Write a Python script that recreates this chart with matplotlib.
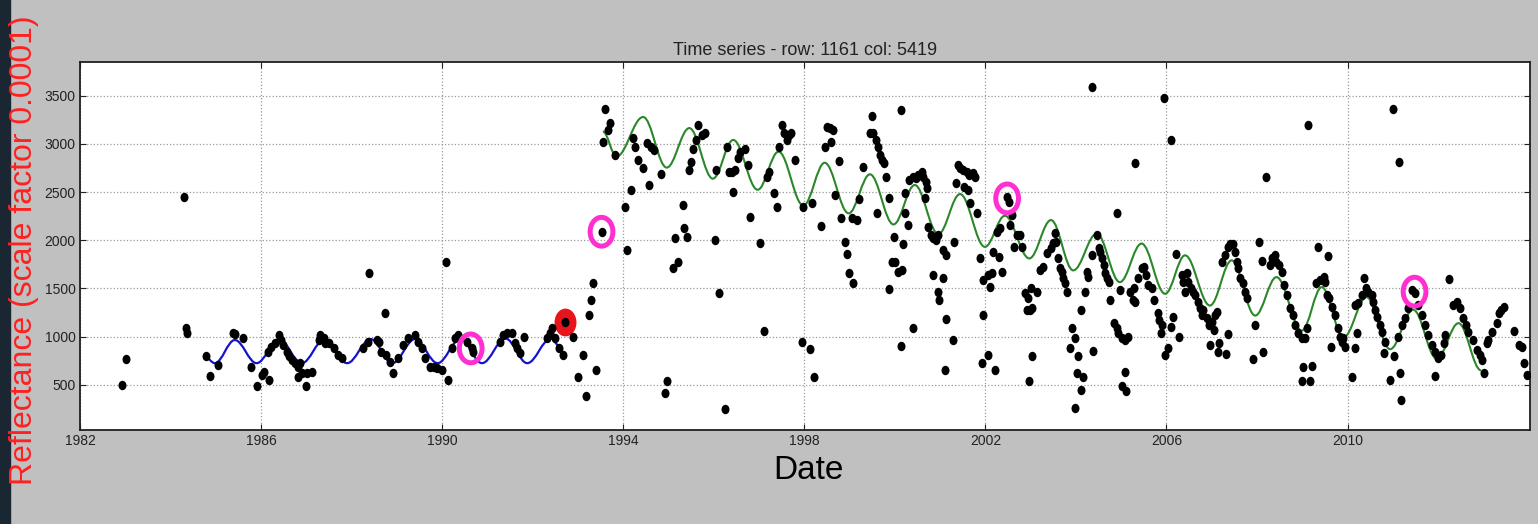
import numpy as np
import matplotlib
matplotlib.use("Agg")
import matplotlib.pyplot as plt
from matplotlib.path import Path
from matplotlib.patches import PathPatch, Rectangle
from matplotlib.transforms import Affine2D

obs_1982_1993 = [
    (1982.92, 500), (1983.01, 766), (1984.30, 2445), (1984.34, 1087), (1984.37, 1035),
    (1984.78, 800), (1984.87, 593), (1985.04, 707), (1985.37, 1035), (1985.42, 1025),
    (1985.61, 990), (1985.77, 690), (1985.92, 483), (1986.01, 603), (1986.07, 638),
    (1986.18, 545), (1986.16, 845), (1986.23, 897), (1986.31, 932), (1986.40, 1018),
    (1986.45, 966), (1986.49, 914), (1986.57, 845), (1986.62, 794), (1986.68, 759),
    (1986.75, 724), (1986.82, 690), (1986.86, 724), (1986.82, 586), (1986.90, 621),
    (1987.01, 621), (1987.12, 638), (1986.99, 483), (1987.29, 966), (1987.41, 932),
    (1987.49, 932), (1987.30, 1018), (1987.38, 983), (1987.60, 880), (1987.71, 811),
    (1987.78, 776), (1988.26, 880), (1988.37, 949), (1988.55, 966), (1988.61, 949),
    (1988.66, 845), (1988.77, 811), (1988.85, 742), (1988.91, 621), (1989.03, 776),
    (1989.14, 914), (1989.25, 983), (1989.40, 1018), (1989.47, 949), (1989.55, 880),
    (1989.62, 776), (1989.73, 690), (1989.81, 690), (1989.88, 672), (1989.99, 655),
    (1990.14, 552), (1988.39, 1665), (1988.74, 1243), (1990.09, 1772), (1990.21, 880),
    (1990.28, 983), (1990.36, 1018), (1990.54, 949), (1990.65, 880), (1990.69, 845),
    (1991.28, 949), (1991.35, 1018), (1991.43, 1035), (1991.54, 1035), (1991.61, 932),
    (1991.65, 880), (1991.72, 828), (1991.81, 1001), (1992.31, 983), (1992.38, 1035),
    (1992.42, 1087), (1992.49, 983), (1992.59, 880), (1992.68, 811), (1992.71, 1156),
    (1992.90, 1001), (1993.12, 811), (1992.99, 586), (1993.17, 379), (1993.39, 655),
    (1993.24, 1225), (1993.29, 1381), (1993.34, 1554), (1993.52, 2089),
]

obs_1993_1998 = [
    (1993.60, 3358), (1993.71, 3213), (1993.66, 3144), (1993.56, 3023), (1993.82, 2884),
    (1994.04, 2349), (1994.17, 2521), (1994.08, 1899), (1994.22, 3057), (1994.26, 2971),
    (1994.32, 2833), (1994.44, 2746), (1994.57, 2573), (1994.52, 3005), (1994.61, 2971),
    (1994.67, 2936), (1994.83, 2687), (1994.92, 413), (1994.97, 541), (1995.11, 1709),
    (1995.20, 1778), (1995.14, 2020), (1995.33, 2366), (1995.35, 2124), (1995.40, 2038),
    (1995.45, 2729), (1995.50, 2815), (1995.55, 2953), (1995.60, 3040), (1995.66, 3195),
    (1995.73, 3092), (1995.81, 3109), (1996.03, 2003), (1996.12, 1450), (1996.25, 248),
    (1996.06, 2729), (1996.30, 2971), (1996.34, 2712), (1996.40, 2712), (1996.47, 2729),
    (1996.42, 2504), (1996.54, 2850), (1996.58, 2919), (1996.68, 2947), (1996.75, 2781),
    (1996.80, 2245), (1997.02, 1968), (1997.10, 1060), (1997.17, 2660), (1997.22, 2712),
    (1997.32, 2487), (1997.39, 2349), (1997.43, 2971), (1997.50, 3195), (1997.56, 3109),
    (1997.61, 3040), (1997.66, 3092), (1997.71, 3109), (1997.79, 2833), (1997.96, 2349),
    (1998.18, 2383), (1997.94, 949), (1998.13, 873), (1998.22, 586),
]

obs_1998_2003 = [
    (1998.37, 2152), (1998.46, 2971), (1998.51, 3178), (1998.57, 3161), (1998.63, 3144),
    (1998.58, 3023), (1998.77, 2826), (1998.68, 2470), (1998.80, 2228), (1998.90, 1986),
    (1998.95, 1854), (1998.99, 1657), (1999.07, 1554), (1999.05, 2228), (1999.16, 2210),
    (1999.21, 2428), (1999.29, 2763), (1999.49, 3289), (1999.46, 3116), (1999.52, 3109),
    (1999.58, 3040), (1999.63, 2971), (1999.67, 2884), (1999.71, 2833), (1999.75, 2798),
    (1999.80, 2653), (1999.86, 2435), (1999.60, 2280), (1999.88, 1491), (1999.93, 1778),
    (2000.00, 1778), (1999.97, 2038), (2000.08, 1675), (2000.15, 1692), (2000.13, 3351),
    (2000.19, 1958), (2000.13, 907), (2000.22, 2487), (2000.22, 2280), (2000.30, 2159),
    (2000.39, 1087), (2000.32, 2625), (2000.41, 2660), (2000.47, 2642), (2000.52, 2677),
    (2000.59, 2712), (2000.63, 2660), (2000.69, 2608), (2000.72, 2539), (2000.67, 2435),
    (2000.74, 2141), (2000.79, 2055), (2000.85, 2020), (2000.91, 2003), (2000.96, 2055),
    (2000.85, 1640), (2000.96, 1467), (2000.98, 1381), (2001.07, 1606), (2001.06, 1899),
    (2001.14, 1848), (2001.13, 1184), (2001.28, 966), (2001.11, 655), (2001.31, 1986),
    (2001.36, 2591), (2001.40, 2781), (2001.44, 2746), (2001.51, 2729), (2001.59, 2712),
    (2001.64, 2677), (2001.72, 2694), (2001.77, 2660), (2001.62, 2521), (2001.67, 2383),
    (2001.53, 2556), (2001.81, 2280), (2001.87, 1820), (2001.94, 1225), (2001.95, 1588),
    (2002.06, 1640), (2002.10, 1519), (2002.14, 1657), (2001.92, 724), (2002.06, 811),
    (2002.21, 655), (2002.16, 1882), (2002.29, 1830), (2002.36, 1675), (2002.25, 2089),
    (2002.32, 2124), (2002.47, 2452), (2002.53, 2400), (2002.58, 2262), (2002.54, 2159),
    (2002.63, 1934), (2002.69, 2055), (2002.76, 2055), (2002.80, 1934), (2002.87, 1450),
    (2002.91, 1277), (2002.98, 1277), (2002.95, 1398), (2003.04, 1295), (2003.00, 1502),
    (2003.13, 1467), (2003.02, 794), (2002.97, 541), (2003.21, 1692), (2003.28, 1727),
    (2003.37, 1865), (2003.44, 1917), (2003.50, 1968),
]

obs_2003_2009 = [
    (2003.54, 2072), (2003.57, 1986), (2003.61, 1813), (2003.65, 1709), (2003.69, 1675),
    (2003.72, 1606), (2003.76, 1554), (2003.80, 1467), (2004.36, 3593), (2003.91, 1087),
    (2003.97, 983), (2003.87, 887), (2004.04, 794), (2004.02, 621), (2004.16, 576),
    (2004.11, 448), (2003.99, 258), (2004.24, 1675), (2004.27, 1623), (2004.20, 1467),
    (2004.11, 1277), (2004.38, 852), (2004.35, 1848), (2004.46, 2055), (2004.50, 1917),
    (2004.53, 1882), (2004.57, 1813), (2004.61, 1744), (2004.64, 1657), (2004.68, 1606),
    (2004.72, 1571), (2004.75, 1381), (2004.90, 2280), (2004.83, 1139), (2004.90, 1087),
    (2004.94, 1035), (2005.01, 983), (2005.08, 966), (2005.14, 1001), (2004.97, 1485),
    (2005.08, 638), (2005.01, 483), (2005.10, 431), (2005.19, 1467), (2005.25, 1381),
    (2005.31, 1364), (2005.29, 1502), (2005.38, 1606), (2005.45, 1709), (2005.51, 1727),
    (2005.54, 1640), (2005.60, 1536), (2005.67, 1502), (2005.73, 1381), (2005.31, 2798),
    (2005.81, 1243), (2005.84, 1174), (2005.88, 1035), (2005.89, 1122), (2005.97, 811),
    (2006.04, 880), (2006.15, 1208), (2006.11, 1105), (2006.28, 1001), (2005.95, 3479),
    (2006.10, 3040), (2006.20, 1854), (2006.34, 1640), (2006.37, 1571), (2006.41, 1467),
    (2006.45, 1657), (2006.48, 1571), (2006.54, 1502), (2006.59, 1467), (2006.63, 1433),
    (2006.69, 1364), (2006.74, 1295), (2006.78, 1225), (2006.81, 1277), (2006.89, 1191),
    (2006.94, 1122), (2007.00, 1156), (2007.07, 1225), (2007.11, 1260), (2007.04, 1070),
    (2006.96, 914), (2007.15, 932), (2007.13, 838), (2007.31, 818), (2007.35, 1025),
    (2007.22, 1778), (2007.29, 1848), (2007.35, 1934), (2007.40, 1958), (2007.48, 1958),
    (2007.51, 1882), (2007.55, 1778), (2007.59, 1709), (2007.62, 1606), (2007.70, 1554),
    (2007.73, 1467), (2007.77, 1398), (2007.92, 766), (2007.96, 1122), (2008.14, 838),
    (2008.04, 1986), (2008.12, 1785), (2008.19, 2660), (2008.29, 1744), (2008.34, 1813),
    (2008.40, 1848), (2008.43, 1778), (2008.49, 1744), (2008.55, 1675), (2008.60, 1536),
    (2008.66, 1433), (2008.73, 1295), (2008.80, 1225), (2008.84, 1122), (2008.90, 1035),
    (2009.00, 990), (2009.02, 690), (2009.00, 541),
]

obs_2009_2014 = [
    (2009.06, 983), (2009.10, 1087), (2009.21, 700), (2009.17, 541), (2009.12, 3202),
    (2009.34, 1934), (2009.56, 1837), (2009.30, 1554), (2009.39, 1588), (2009.47, 1623),
    (2009.50, 1571), (2009.54, 1433), (2009.58, 1398), (2009.65, 1312), (2009.72, 1225),
    (2009.78, 1087), (2009.83, 1001), (2009.87, 949), (2009.91, 983), (2009.94, 897),
    (2009.63, 897), (2010.10, 586), (2010.16, 880), (2010.20, 1035), (2010.16, 1329),
    (2010.24, 1347), (2010.31, 1433), (2010.37, 1606), (2010.40, 1502), (2010.46, 1467),
    (2010.53, 1433), (2010.57, 1364), (2010.61, 1277), (2010.64, 1208), (2010.72, 1122),
    (2010.75, 1053), (2010.83, 949), (2010.81, 828), (2010.94, 552), (2011.03, 794),
    (2011.16, 621), (2011.18, 344), (2011.01, 3368), (2011.14, 2808), (2011.12, 1001),
    (2011.20, 1122), (2011.27, 1191), (2011.34, 1295), (2011.42, 1485), (2011.49, 1450),
    (2011.56, 1329), (2011.64, 1225), (2011.71, 1122), (2011.78, 1018), (2011.86, 914),
    (2011.93, 845), (2012.00, 776), (2012.06, 811), (2012.12, 932), (2012.15, 1018),
    (2011.93, 596), (2012.24, 1599), (2012.34, 1329), (2012.41, 1364), (2012.48, 1295),
    (2012.56, 1191), (2012.61, 1122), (2012.67, 1053), (2012.78, 966), (2012.87, 863),
    (2012.93, 811), (2012.96, 759), (2013.02, 621), (2013.07, 932), (2013.11, 966),
    (2013.20, 1053), (2013.29, 1139), (2013.35, 1243), (2013.40, 1277), (2013.46, 1312),
    (2013.68, 1060), (2013.79, 914), (2013.85, 897), (2013.90, 724), (2013.96, 603),
]

# seasonal fit: turning points of the fitted curves (start, peaks/troughs, end)
blue_fit = [
    (1984.74, 800), (1984.98, 725), (1985.42, 965), (1985.90, 725), (1986.40, 970),
    (1986.90, 725), (1987.40, 970), (1987.90, 725), (1988.42, 975), (1988.90, 725),
    (1989.40, 975), (1989.90, 725), (1990.40, 975), (1990.88, 725), (1991.40, 980),
    (1991.88, 725), (1992.40, 980), (1992.60, 900),
]
green_fit = [
    (1993.55, 3130), (1993.85, 2870), (1994.44, 3280), (1994.96, 2755), (1995.46, 3165),
    (1995.98, 2640), (1996.43, 3042), (1996.97, 2525), (1997.43, 2920), (1997.98, 2360),
    (1998.45, 2805), (1998.98, 2280), (1999.45, 2685), (1999.97, 2165), (2000.44, 2574),
    (2000.96, 2065), (2001.44, 2480), (2001.99, 1932), (2002.43, 2255), (2002.97, 1812),
    (2003.45, 2210), (2003.94, 1688), (2004.46, 2070), (2004.97, 1566), (2005.45, 1966),
    (2005.97, 1445), (2006.41, 1844), (2006.96, 1323), (2007.44, 1792), (2007.96, 1219),
    (2008.43, 1618), (2008.99, 1063), (2009.43, 1514), (2009.91, 993), (2010.42, 1410),
    (2010.94, 870), (2011.45, 1280), (2011.97, 770), (2012.45, 1140), (2012.95, 650),
]

# highlighted observations
pink_marks = [(1990.63, 878), (1993.52, 2089), (2002.48, 2435), (2011.48, 1467)]
red_marks = [(1992.71, 1156)]

year_ticks = [1982, 1986, 1990, 1994, 1998, 2002, 2006, 2010]
refl_ticks = [500, 1000, 1500, 2000, 2500, 3000, 3500]


def smooth_path(knots, k=0.3642):
    # cubic bezier between turning points, flat tangents at each knot
    verts = [knots[0]]
    codes = [Path.MOVETO]
    for (x0, y0), (x1, y1) in zip(knots[:-1], knots[1:]):
        dx = x1 - x0
        verts += [(x0 + k * dx, y0), (x1 - k * dx, y1), (x1, y1)]
        codes += [Path.CURVE4] * 3
    return Path(verts, codes)


def oval(ratio):
    circ = Path.unit_circle()
    return circ.transformed(Affine2D().scale(ratio, 1.0))


fig = plt.figure(figsize=(15.38, 5.24), dpi=100, facecolor="#c0c0c0")
fig.patches.append(Rectangle((0, 0), 10 / 1538, 1, transform=fig.transFigure,
                             color="#1b2633", zorder=0))

ax = fig.add_axes([80 / 1538, 1 - 430 / 524, 1450 / 1538, 368 / 524])
ax.set_facecolor("white")

ax.add_patch(PathPatch(smooth_path(blue_fit), facecolor="none",
                       edgecolor="#1414cc", lw=1.6, zorder=2))
ax.add_patch(PathPatch(smooth_path(green_fit), facecolor="none",
                       edgecolor="#2a872a", lw=1.5, zorder=2))

rx, ry = np.array(red_marks).T
ax.scatter(rx, ry, s=400, marker=oval(0.79), color="#e8141c", zorder=3, linewidths=0)

for obs in [obs_1982_1993, obs_1993_1998, obs_1998_2003, obs_2003_2009, obs_2009_2014]:
    xs, ys = np.array(obs).T
    ax.scatter(xs, ys, s=46, marker=oval(0.85), color="black", linewidths=0, zorder=4)

px, py = np.array(pink_marks).T
ax.scatter(px, py, s=430, marker=oval(0.79), facecolors="none",
           edgecolors="#ff2fd2", linewidths=3.6, zorder=5)

ax.set_xlim(1982, 2014.03)
ax.set_ylim(31, 3851)
ax.set_xticks(year_ticks)
ax.set_yticks(refl_ticks)
ax.grid(True, linestyle=":", color="#9a9a9a", lw=0.9)
ax.tick_params(direction="in", top=True, right=True, length=4, width=0.8,
               colors="#222222", labelsize=10)
for lab in ax.get_xticklabels() + ax.get_yticklabels():
    lab.set_family("Liberation Sans")
ax.tick_params(axis="x", pad=3)
ax.tick_params(axis="y", pad=3)
for sp in ax.spines.values():
    sp.set_color("#202020")
    sp.set_linewidth(1.3)

ax.set_title("Time series - row: 1161 col: 5419", family="Liberation Sans",
             fontsize=13, color="#222222", pad=5)

fig.text(24 / 1538, 1 - 250 / 524, "Reflectance (scale factor 0.0001)",
         rotation=90, ha="center", va="center", color="#ff2020",
         fontsize=23, family="Liberation Sans")
fig.text(808 / 1538, 1 - 479 / 524, "Date", ha="center", va="baseline",
         color="black", fontsize=24, family="Liberation Sans")

fig.savefig("out.png", dpi=100, facecolor=fig.get_facecolor())
